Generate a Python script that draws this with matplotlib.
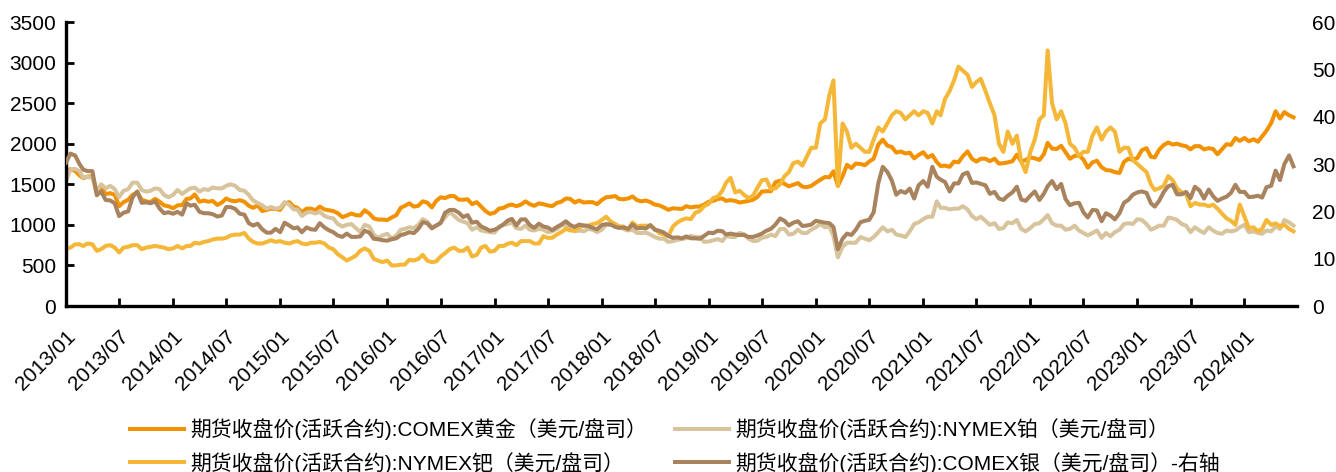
import matplotlib
matplotlib.use("Agg")
import matplotlib.pyplot as plt
import matplotlib.transforms as mtransforms
import pandas as pd

plt.rcParams['font.family'] = ['Liberation Sans', 'Noto Sans CJK SC', 'DejaVu Sans']

# semi-monthly sample dates (1st and 16th), 2013/01 .. 2024/06
dates = [pd.Timestamp(y, m, d) for y in range(2013, 2025) for m in range(1, 13) for d in (1, 16)
         if pd.Timestamp(y, m, d) <= pd.Timestamp(2024, 6, 16)]

# COMEX gold, USD/oz (left axis)
gold = [
    1675, 1685, 1665, 1610, 1575, 1595, 1600, 1390, 1470, 1380, 1390, 1370, 1230, 1280, 1310, 1370, 1400, 1310, 1290, 1280, 1320, 1285, 1240, 1230,
    1205, 1240, 1245, 1320, 1325, 1375, 1285, 1300, 1285, 1295, 1245, 1275, 1325, 1300, 1290, 1305, 1285, 1235, 1210, 1240, 1170, 1185, 1200, 1195,
    1185, 1265, 1280, 1225, 1210, 1155, 1200, 1200, 1180, 1225, 1190, 1180, 1170, 1145, 1095, 1115, 1140, 1120, 1115, 1180, 1140, 1080, 1065, 1065,
    1060, 1090, 1120, 1210, 1235, 1265, 1225, 1235, 1290, 1275, 1215, 1295, 1340, 1330, 1355, 1355, 1310, 1310, 1315, 1255, 1280, 1225, 1170, 1135,
    1150, 1200, 1210, 1240, 1250, 1230, 1250, 1290, 1255, 1235, 1265, 1255, 1240, 1230, 1270, 1285, 1325, 1320, 1275, 1300, 1275, 1280, 1280, 1255,
    1305, 1340, 1345, 1355, 1320, 1315, 1325, 1350, 1305, 1290, 1300, 1280, 1250, 1240, 1215, 1185, 1205, 1200, 1195, 1230, 1215, 1225, 1225, 1250,
    1285, 1295, 1320, 1325, 1295, 1305, 1295, 1275, 1285, 1295, 1310, 1345, 1410, 1415, 1415, 1525, 1545, 1505, 1475, 1495, 1515, 1470, 1465, 1480,
    1520, 1555, 1590, 1585, 1660, 1480, 1600, 1740, 1700, 1755, 1750, 1735, 1780, 1815, 1990, 2050, 1975, 1960, 1890, 1905, 1880, 1890, 1820, 1860,
    1895, 1830, 1860, 1775, 1725, 1730, 1715, 1780, 1770, 1845, 1905, 1815, 1780, 1815, 1815, 1785, 1815, 1755, 1760, 1770, 1785, 1865, 1780, 1800,
    1830, 1820, 1800, 1870, 2010, 1940, 1935, 1975, 1895, 1815, 1850, 1855, 1805, 1705, 1770, 1790, 1710, 1675, 1670, 1650, 1640, 1775, 1815, 1800,
    1825, 1920, 1945, 1840, 1830, 1925, 1985, 2015, 1990, 2000, 1980, 1970, 1930, 1970, 1970, 1930, 1945, 1935, 1870, 1930, 1995, 1985, 2070, 2035,
    2070, 2030, 2055, 2025, 2090, 2160, 2255, 2400, 2310, 2390, 2350, 2325,
]

# NYMEX platinum, USD/oz (left axis)
platinum = [
    1540, 1680, 1690, 1660, 1580, 1590, 1580, 1420, 1500, 1450, 1480, 1440, 1340, 1420, 1440, 1520, 1520, 1430, 1410, 1420, 1450, 1440, 1370, 1340,
    1370, 1430, 1380, 1420, 1450, 1460, 1410, 1440, 1430, 1460, 1450, 1450, 1480, 1500, 1480, 1430, 1420, 1370, 1300, 1270, 1240, 1200, 1220, 1200,
    1210, 1280, 1250, 1190, 1190, 1110, 1150, 1160, 1140, 1160, 1110, 1090, 1080, 1010, 980, 1000, 1010, 960, 910, 1000, 980, 880, 840, 870,
    890, 830, 870, 940, 950, 970, 960, 1000, 1070, 1040, 970, 990, 1030, 1090, 1160, 1110, 1060, 1040, 1020, 940, 970, 930, 920, 910,
    905, 980, 1000, 1010, 1030, 960, 950, 990, 940, 930, 950, 940, 910, 920, 950, 990, 1000, 950, 920, 930, 920, 950, 940, 910,
    940, 1000, 1000, 1000, 980, 950, 930, 940, 900, 900, 905, 880, 850, 830, 830, 790, 800, 815, 825, 835, 865, 850, 850, 790,
    795, 810, 825, 800, 860, 850, 850, 900, 885, 830, 800, 805, 840, 850, 880, 860, 950, 950, 880, 890, 940, 900, 900, 940,
    970, 1010, 970, 980, 860, 600, 730, 780, 780, 780, 850, 830, 810, 850, 910, 970, 920, 940, 880, 870, 850, 920, 1010, 1030,
    1070, 1100, 1100, 1290, 1210, 1210, 1190, 1200, 1200, 1230, 1190, 1110, 1070, 1100, 1050, 1000, 1020, 950, 960, 1030, 1020, 1060, 950, 920,
    960, 1010, 1020, 1070, 1120, 1020, 990, 990, 940, 950, 990, 930, 900, 870, 900, 930, 840, 900, 860, 910, 940, 1010, 1020, 1010,
    1070, 1060, 1010, 940, 960, 990, 990, 1090, 1080, 1060, 1010, 990, 910, 970, 930, 900, 970, 930, 900, 890, 930, 920, 930, 970,
    1000, 910, 920, 900, 890, 930, 920, 980, 950, 1060, 1030, 990,
]

# NYMEX palladium, USD/oz (left axis)
palladium = [
    700, 720, 760, 760, 740, 770, 760, 680, 700, 740, 750, 720, 660, 720, 730, 750, 750, 700, 720, 730, 740, 730, 720, 700,
    710, 740, 710, 740, 740, 780, 770, 790, 800, 820, 830, 830, 840, 870, 880, 880, 900, 830, 790, 770, 770, 790, 810, 790,
    800, 780, 770, 790, 800, 770, 760, 780, 780, 790, 770, 720, 700, 640, 600, 560, 590, 620, 680, 710, 680, 580, 560, 540,
    560, 500, 500, 510, 510, 570, 560, 580, 630, 560, 540, 550, 610, 650, 700, 720, 680, 680, 720, 610, 630, 720, 740, 670,
    680, 740, 740, 770, 780, 750, 800, 800, 800, 770, 770, 860, 840, 840, 880, 910, 950, 930, 930, 970, 990, 990, 1010, 1020,
    1060, 1100, 1040, 1010, 980, 980, 940, 1030, 980, 990, 990, 990, 950, 900, 880, 860, 980, 1030, 1060, 1080, 1070, 1150, 1170, 1230,
    1260, 1330, 1350, 1420, 1520, 1580, 1400, 1420, 1370, 1330, 1360, 1460, 1550, 1560, 1440, 1450, 1500, 1600, 1650, 1760, 1780, 1730, 1840, 1950,
    1950, 2250, 2300, 2600, 2780, 1480, 2250, 2150, 1950, 2000, 1950, 1900, 1900, 2050, 2200, 2150, 2250, 2350, 2400, 2380, 2300, 2350, 2400, 2350,
    2400, 2380, 2250, 2400, 2350, 2550, 2650, 2780, 2950, 2900, 2850, 2700, 2760, 2800, 2650, 2500, 2350, 2000, 1900, 2150, 2000, 2100, 1780, 1650,
    1900, 2050, 2300, 2350, 3150, 2500, 2300, 2400, 2250, 2000, 1950, 1850, 1900, 1900, 2100, 2200, 2050, 2150, 2200, 2150, 1900, 1950, 1950, 1800,
    1750, 1700, 1650, 1500, 1430, 1450, 1480, 1600, 1550, 1450, 1400, 1380, 1230, 1270, 1250, 1250, 1230, 1250, 1200, 1140, 1080, 1050, 1000, 1250,
    1100, 960, 970, 920, 950, 1060, 1000, 1020, 980, 1000, 950, 920,
]

# COMEX silver, USD/oz (right axis)
silver = [
    30.3, 32.2, 31.8, 30.0, 28.8, 28.5, 28.5, 23.4, 24.2, 22.4, 22.3, 21.7, 19.0, 19.7, 20.0, 23.0, 24.2, 21.8, 21.9, 21.7, 22.1, 20.6, 19.6, 19.8,
    19.5, 19.9, 19.3, 21.7, 21.2, 21.4, 19.9, 19.6, 19.6, 19.4, 18.9, 19.1, 20.9, 20.9, 20.5, 19.5, 19.3, 17.5, 17.0, 17.4, 16.2, 15.5, 15.5, 16.3,
    15.6, 17.6, 17.0, 16.4, 16.6, 15.6, 16.6, 16.2, 16.1, 17.5, 16.6, 16.0, 15.6, 14.9, 14.6, 15.3, 14.6, 14.6, 14.7, 15.9, 15.5, 14.2, 14.1, 13.9,
    13.8, 14.1, 14.3, 15.0, 15.2, 15.6, 15.4, 16.3, 17.7, 17.5, 16.4, 17.0, 17.5, 19.7, 20.3, 20.3, 19.7, 18.8, 19.2, 17.6, 17.8, 16.8, 16.4, 15.9,
    16.1, 16.6, 17.3, 18.1, 18.4, 17.0, 18.3, 18.3, 17.1, 16.5, 17.4, 16.8, 16.6, 16.0, 16.7, 17.2, 17.9, 17.1, 16.7, 17.2, 17.0, 16.9, 16.5, 16.2,
    17.1, 17.3, 17.2, 16.7, 16.5, 16.6, 16.3, 17.2, 16.4, 16.5, 16.4, 17.1, 16.1, 15.9, 15.5, 14.8, 14.4, 14.5, 14.3, 14.7, 14.3, 14.3, 14.2, 14.8,
    15.5, 15.4, 15.9, 15.8, 15.1, 15.3, 15.1, 15.0, 15.0, 14.6, 14.6, 14.9, 15.3, 15.9, 16.3, 17.2, 18.5, 18.0, 17.0, 17.6, 17.9, 16.9, 17.0, 17.2,
    18.0, 17.8, 17.6, 17.5, 16.7, 12.0, 14.2, 15.3, 15.0, 16.1, 17.7, 18.0, 18.2, 19.8, 26.0, 29.4, 28.3, 26.5, 23.5, 24.3, 23.9, 24.8, 22.7, 25.5,
    26.4, 25.2, 29.4, 27.3, 26.7, 26.2, 24.2, 25.9, 25.9, 27.8, 28.2, 26.0, 26.1, 25.8, 25.5, 23.7, 24.1, 22.7, 22.4, 23.3, 24.0, 25.2, 22.5, 22.2,
    23.3, 24.2, 22.4, 23.7, 25.3, 26.4, 24.7, 25.8, 22.6, 21.3, 21.7, 21.8, 19.8, 18.7, 20.3, 20.2, 17.9, 19.6, 19.1, 18.3, 19.6, 21.8, 22.4, 23.5,
    24.0, 24.2, 23.9, 21.7, 21.0, 22.2, 24.1, 25.3, 25.6, 23.6, 23.6, 24.1, 22.8, 25.2, 24.4, 22.7, 24.6, 23.2, 22.2, 22.7, 23.1, 23.9, 25.6, 24.1,
    24.1, 23.0, 23.1, 23.3, 22.9, 25.1, 25.4, 28.6, 26.6, 30.0, 31.8, 29.5,
]

labels = ['期货收盘价(活跃合约):COMEX黄金（美元/盘司）',
          '期货收盘价(活跃合约):NYMEX铂（美元/盘司）',
          '期货收盘价(活跃合约):NYMEX钯（美元/盘司）',
          '期货收盘价(活跃合约):COMEX银（美元/盘司）-右轴']
colors = ['#F39200', '#D7C49D', '#F4B738', '#A8835E']

W, H = 1336, 472
fig = plt.figure(figsize=(W / 100, H / 100), dpi=100)
ax = fig.add_axes([66 / W, 1 - 306 / H, (1297 - 66) / W, (306 - 22) / H])

lw = 2.9
l_au, = ax.plot(dates, gold, color=colors[0], lw=lw, label=labels[0])
l_pt, = ax.plot(dates, platinum, color=colors[1], lw=lw, label=labels[1])
l_pd, = ax.plot(dates, palladium, color=colors[2], lw=lw, label=labels[2])
ax2 = ax.twinx()
l_ag, = ax2.plot(dates, silver, color=colors[3], lw=lw, label=labels[3])

ax.set_ylim(0, 3500)
ax.set_yticks(range(0, 3501, 500))
ax2.set_ylim(0, 60)
ax2.set_yticks(range(0, 61, 10))
ax.set_xlim(pd.Timestamp(2013, 1, 1), pd.Timestamp(2024, 6, 28))

xt = pd.date_range('2013-01-01', '2024-01-01', freq='6MS')
ax.set_xticks(xt)
ax.set_xticklabels([d.strftime('%Y/%m') for d in xt], rotation=45, ha='right', va='top',
                   rotation_mode='anchor')
shift = mtransforms.ScaledTranslation(5 / 100, 0, fig.dpi_scale_trans)
for t in ax.get_xticklabels():
    t.set_transform(t.get_transform() + shift)

for s in ['top', 'right']:
    ax.spines[s].set_visible(False)
for s in ax2.spines.values():
    s.set_visible(False)
ax.spines['left'].set_linewidth(2.4)
ax.spines['bottom'].set_linewidth(2.4)

ax.tick_params(direction='in', length=6, width=2, labelsize=15)
ax.tick_params(axis='y', pad=7)
ax.tick_params(axis='x', pad=15)
ax2.tick_params(length=0, labelsize=15, pad=11)

fig.legend([l_au, l_pd, l_pt, l_ag], [labels[0], labels[2], labels[1], labels[3]],
           loc='upper left', bbox_to_anchor=(130 / W, 1 - 418 / H), ncol=2, frameon=False,
           fontsize=15, handlelength=2.6, handletextpad=0.3, columnspacing=1.32,
           labelspacing=0.58, borderpad=0, borderaxespad=0)

fig.savefig('out.png', dpi=100)
